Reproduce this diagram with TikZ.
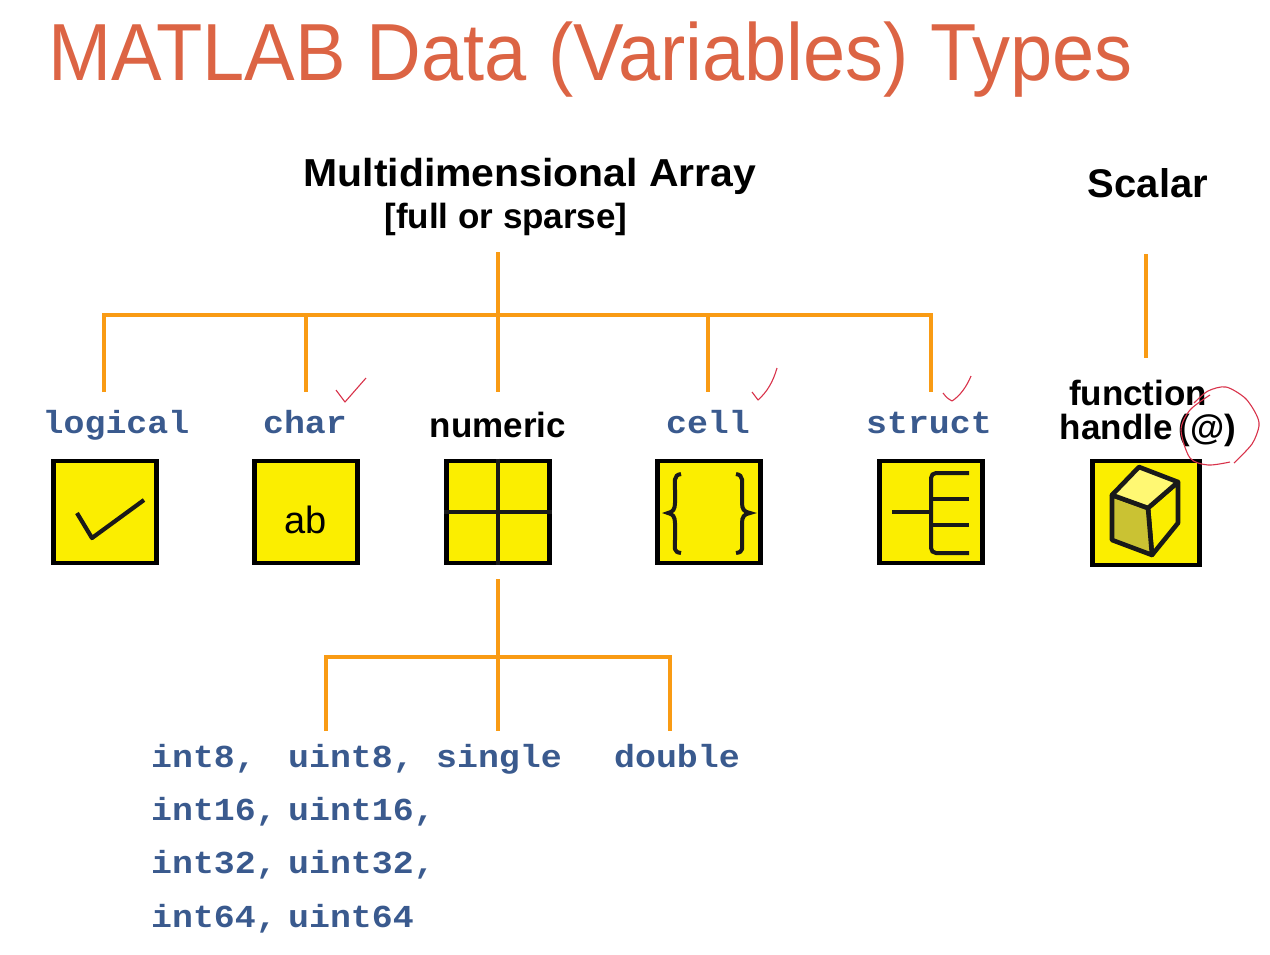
\documentclass[tikz,border=0pt]{standalone}
\usepackage{fontspec}
\setmainfont{Liberation Sans}
\setmonofont[FakeStretch=1.09]{Liberation Mono}
\usetikzlibrary{positioning}
\definecolor{titlered}{HTML}{DC6444}
\definecolor{branch}{HTML}{F99B14}
\definecolor{typeblue}{HTML}{3A5A8E}
\definecolor{iconyellow}{HTML}{FBEE00}
\definecolor{tickred}{HTML}{D8324A}
\begin{document}
\begin{tikzpicture}
                [x=1pt,y=-1pt,
                branchline/.style={draw=branch,line width=3.8pt},
                iconbox/.style={draw=black,fill=iconyellow,line width=4.8pt,minimum width=103pt,minimum height=102pt,inner sep=0pt},
                iconline/.style={draw=black!90,line width=4pt},
                typelabel/.style={anchor=base,inner sep=0pt,text=typeblue,font=\fontsize{32}{32}\ttfamily\bfseries},
                sortlabel/.style={anchor=base west,inner sep=0pt,text=typeblue,font=\fontsize{32}{32}\ttfamily\bfseries},
                headlabel/.style={anchor=base,inner sep=0pt,align=center,font=\fontsize{35}{35}\selectfont\bfseries},
                ticktrace/.style={draw=tickred,line width=1.1pt,line join=round}]

                \useasboundingbox (0,0) rectangle (1270,954);

                \node[anchor=base west,inner sep=0pt,text=titlered,font=\fontsize{81}{81}\selectfont] (title) at (48,80) {\scalebox{0.936}[1]{MATLAB Data (Variables) Types}};

                \node[headlabel,font=\fontsize{39}{39}\selectfont\bfseries] (array) at (530,186) {\scalebox{1.05}[1]{Multidimensional Array}};
                \node[headlabel] (storage) at (506,228) {[full or sparse]};
                \node[headlabel,font=\fontsize{40}{40}\selectfont\bfseries] (scalar) at (1148,197) {Scalar};

                \node[typelabel] (logical) at (116,433) {logical};
                \node[typelabel] (char) at (305,433) {char};
                \node[headlabel] (numeric) at (498,437) {numeric};
                \node[typelabel] (cell) at (708,433) {cell};
                \node[typelabel] (struct) at (929,433) {struct};
                \node[headlabel] (function) at (1138,405) {function};
                \node[headlabel] (handle) at (1148,439) {handle\,(@)};

                \node[iconbox] (logicalbox) at (105,512) {};
                \node[iconbox,font=\fontsize{38}{38}\selectfont] (charbox) at (306,512) {\raisebox{-21pt}[0pt][0pt]{ab}};
                \node[iconbox] (numericbox) at (498,512) {};
                \node[iconbox] (cellbox) at (709,512) {};
                \node[iconbox] (structbox) at (931,512) {};
                \node[iconbox,minimum width=107pt,minimum height=104pt] (functionbox) at (1146,513) {};

                \coordinate (arraytop) at (498,252);
                \coordinate (arraybus) at (498,315);
                \coordinate (logicalbus) at (104,315);
                \coordinate (charbus) at (306,315);
                \coordinate (cellbus) at (708,315);
                \coordinate (structbus) at (931,315);
                \coordinate (logicalend) at (104,392);
                \coordinate (charend) at (306,392);
                \coordinate (numericend) at (498,392);
                \coordinate (cellend) at (708,392);
                \coordinate (structend) at (931,392);
                \draw[branchline] (arraytop) -- (numericend);
                \draw[branchline] (logicalend) -- (logicalbus) -- (structbus) -- (structend);
                \draw[branchline] (charbus) -- (charend);
                \draw[branchline] (cellbus) -- (cellend);

                \coordinate (scalartop) at (1146,254);
                \coordinate (scalarend) at (1146,358);
                \draw[branchline] (scalartop) -- (scalarend);

                \coordinate (numerictop) at (498,579);
                \coordinate (numericbus) at (498,657);
                \coordinate (sortsend) at (498,731);
                \coordinate (intbus) at (326,657);
                \coordinate (intend) at (326,731);
                \coordinate (doublebus) at (670,657);
                \coordinate (doubleend) at (670,731);
                \draw[branchline] (numerictop) -- (sortsend);
                \draw[branchline] (intend) -- (intbus) -- (doublebus) -- (doubleend);

                \node[sortlabel] (int8) at (151,767) {int8,};
                \node[sortlabel] (uint8) at (288,767) {uint8,};
                \node[sortlabel] (single) at (436,767) {single};
                \node[sortlabel] (double) at (614,767) {double};
                \node[sortlabel] (int16) at (151,820) {int16,};
                \node[sortlabel] (uint16) at (288,820) {uint16,};
                \node[sortlabel] (int32) at (151,873) {int32,};
                \node[sortlabel] (uint32) at (288,873) {uint32,};
                \node[sortlabel] (int64) at (151,927) {int64,};
                \node[sortlabel] (uint64) at (288,927) {uint64};

                \draw[iconline,line width=4.2pt,line join=round] (77,513) -- (92,538) -- (144,500);

                \draw[iconline] (numericbox.north) -- (numericbox.south);
                \draw[iconline] (numericbox.west) -- (numericbox.east);

                \draw[iconline] (681,474) .. controls (673,475) and (675,482) .. (675,490)
                -- (675,503) .. controls (675,509) and (673,512) .. (668,513)
                .. controls (673,514) and (675,517) .. (675,523)
                -- (675,540) .. controls (675,548) and (673,552) .. (681,553);
                \draw[iconline] (736,474) .. controls (744,475) and (742,482) .. (742,490)
                -- (742,503) .. controls (742,509) and (744,512) .. (750,513)
                .. controls (744,514) and (742,517) .. (742,523)
                -- (742,540) .. controls (742,548) and (744,552) .. (736,553);

                \draw[iconline,rounded corners=5pt] (969,473) -- (931,473) -- (931,553) -- (969,553);
                \foreach \toothY in {499,525}
                    \draw[iconline] (931,\toothY) -- (969,\toothY);
                \draw[iconline] (892,512) -- (931,512);

                \draw[iconline,line width=4.6pt,fill=iconyellow,line join=round] (1148,508) -- (1178,482) -- (1178,523) -- (1152,555) -- cycle;
                \draw[iconline,line width=4.6pt,fill=iconyellow!75!black!80,line join=round] (1112,495) -- (1148,508) -- (1152,555) -- (1112,540) -- cycle;
                \draw[iconline,line width=4.6pt,fill=yellow!55!white,line join=round] (1139,467) -- (1178,482) -- (1148,508) -- (1112,495) -- cycle;

                \draw[ticktrace] (336,390) -- (345,402) -- (366,378);
                \draw[ticktrace] (752,392) .. controls (755,396) .. (758,400) .. controls (767,392) and (773,382) .. (777,368);
                \draw[ticktrace] (943,393) .. controls (947,398) .. (952,401) .. controls (960,396) and (967,386) .. (971,376);
                \draw[ticktrace] plot[smooth] coordinates {(1194,403) (1208,391) (1226,387) (1245,398) (1256,414) (1259,426) (1252,444) (1234,463)};
                \draw[ticktrace] plot[smooth] coordinates {(1210,395) (1190,410) (1181,430) (1190,458) (1208,465) (1230,462)};

            \end{tikzpicture}
\end{document}
